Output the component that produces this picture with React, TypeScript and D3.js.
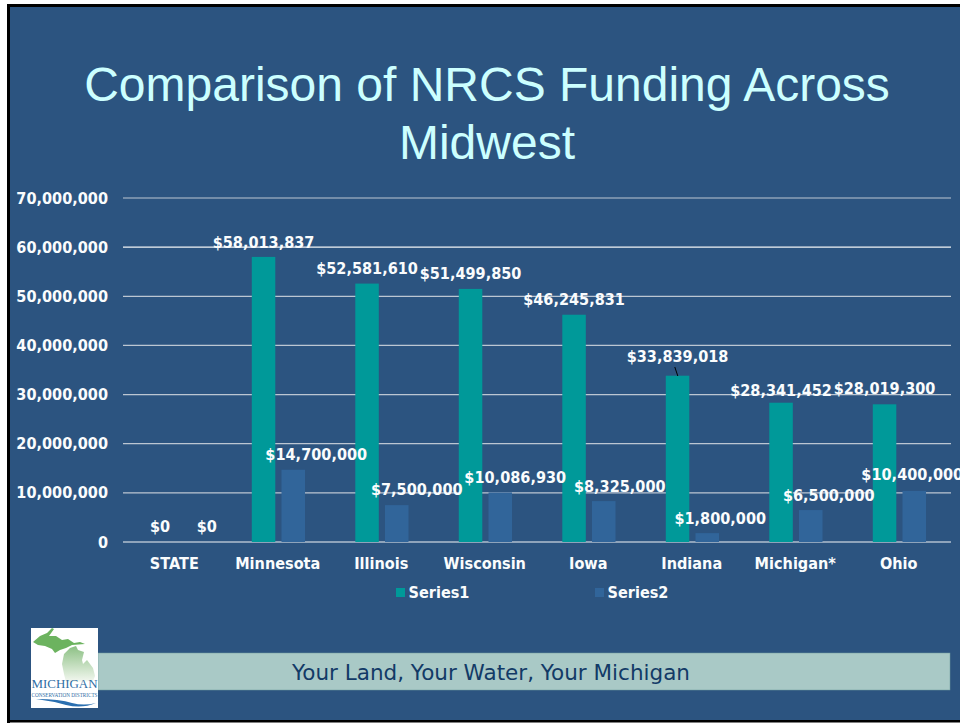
import React from "react";
import * as d3 from "d3";

const categories = ["STATE", "Minnesota", "Illinois", "Wisconsin", "Iowa", "Indiana", "Michigan*", "Ohio"];
const series1 = [0, 58013837, 52581610, 51499850, 46245831, 33839018, 28341452, 28019300];
const series2 = [0, 14700000, 7500000, 10086930, 8325000, 1800000, 6500000, 10400000];
const yTicks = [0, 10000000, 20000000, 30000000, 40000000, 50000000, 60000000, 70000000];
const seriesNames = ["Series1", "Series2"];

// manual label placement, as in the slide (dx from bar centre, dy from bar top)
const label1Dx = [0, 0, 0, 0, 0, 0, 0, 0];
const label1Dy = [-15, -14, -15, -15, -15, -19, -12, -15];
const label2Dx = [17, 23, 20, 15, 16, 13, 18, -2];
const label2Dy = [-15, -15, -15, -14, -14, -14, -14, -16];

const BG = "#2c5480";
const TEAL = "#009999";
const BLUE = "#31659a";
const FONT = "'DejaVu Sans', Verdana, sans-serif";

const fmt = d3.format(",");

function Label(props: { x: number; y: number; anchor?: string; children: React.ReactNode }) {
  return (
    <text
      transform={`translate(${props.x},${props.y}) scale(0.93,1)`}
      textAnchor={props.anchor ?? "middle"}
      fontFamily={FONT}
      fontWeight={700}
      fontSize={15.6}
      fill="#fafcfd"
    >
      {props.children}
    </text>
  );
}

export default function App() {
  const x = d3.scaleBand().domain(categories).range([123, 951]);
  const y = d3.scaleLinear().domain([0, 70000000]).range([542, 198]);
  const barW = 23.5;
  const gapOffset = 3.25;
  const cx = (c: string) => (x(c) as number) + x.bandwidth() / 2;
  const x1 = (c: string) => cx(c) - gapOffset - barW + 0.3;
  const x2 = (c: string) => cx(c) + gapOffset;

  return (
    <svg
      width={960}
      height={723}
      style={{ position: "fixed", left: 0, top: 0, display: "block", background: "#fff" }}
    >
      <rect x={0} y={0} width={960} height={723} fill={BG} />
      <rect x={0} y={0} width={960} height={4} fill="#fff" />
      <rect x={0} y={0} width={7} height={723} fill="#fff" />
      <rect x={0} y={722} width={960} height={1} fill="#fff" />
      <rect x={7} y={4} width={3} height={719} fill="#000" />
      <rect x={7} y={4} width={953} height={3} fill="#000" />
      <rect x={7} y={720} width={953} height={2.5} fill="#000" />

      <g fontFamily="'Liberation Sans', Arial, sans-serif" fontSize={48} fill="#ccffff" textAnchor="middle">
        <text x={487} y={101}>Comparison of NRCS Funding Across</text>
        <text x={487} y={159}>Midwest</text>
      </g>

      {yTicks.map((t) => (
        <g key={t}>
          <line
            x1={123}
            x2={951}
            y1={y(t)}
            y2={y(t)}
            stroke={t === 0 || t === 60000000 ? "#f2f4f6" : "#bcc6d2"}
            strokeWidth={1.2}
          />
          <Label x={108} y={y(t) + 5.5} anchor="end">
            {fmt(t)}
          </Label>
        </g>
      ))}

      {categories.map((c, i) => (
        <g key={c}>
          {series1[i] > 0 && (
            <rect x={x1(c)} y={y(series1[i])} width={barW} height={y(0) - y(series1[i])} fill={TEAL} />
          )}
          {series2[i] > 0 && (
            <rect x={x2(c)} y={y(series2[i])} width={barW} height={y(0) - y(series2[i])} fill={BLUE} />
          )}
        </g>
      ))}

      <line
        x1={x1("Indiana") + 9}
        y1={367}
        x2={x1("Indiana") + 12}
        y2={376}
        stroke="#000"
        strokeWidth={1}
      />

      {categories.map((c, i) => (
        <g key={c}>
          <Label x={x1(c) + barW / 2 + label1Dx[i]} y={y(series1[i]) + label1Dy[i] + 5}>
            ${fmt(series1[i])}
          </Label>
          <Label x={x2(c) + barW / 2 + label2Dx[i]} y={y(series2[i]) + label2Dy[i] + 5}>
            ${fmt(series2[i])}
          </Label>
          <Label x={cx(c) - 0.5} y={568.5}>
            {c}
          </Label>
        </g>
      ))}

      {seriesNames.map((s, i) => (
        <g key={s}>
          <rect x={396 + i * 199} y={588} width={9} height={9} fill={i === 0 ? TEAL : BLUE} />
          <Label x={408.5 + i * 199} y={597.5} anchor="start">
            {s}
          </Label>
        </g>
      ))}

      <rect x={98} y={653} width={852} height={37} fill="#a9c9c6" stroke="#6f9c9c" strokeWidth={0.5} />
      <text x={491} y={680} textAnchor="middle" fontFamily={FONT} fontSize={21.5} fill="#123a66">
        Your Land, Your Water, Your Michigan
      </text>

      {/* logo */}
      <rect x={31} y={628} width={67} height={80} fill="#ffffff" />
      <defs>
        <linearGradient id="lower" x1="0" y1="0" x2="0" y2="1">
          <stop offset="0" stopColor="#8cc084" />
          <stop offset="1" stopColor="#f4f8f1" />
        </linearGradient>
      </defs>
      <path
        d="M33 642 L40 636 L47 633 L52 628 L54 629 L49 636 L56 636 L62 640 L68 639 L74 643 L80 642 L85 644 L72 645 L66 648 L60 650 L55 653 L52 649 L45 646 L38 645 Z"
        fill="#6cb35f"
      />
      <path
        d="M62 664 L64 654 L70 648 L76 646 L78 650 L84 652 L82 660 L83 664 L87 660 L93 668 L95 676 L93 681 L76 682 L66 682 L64 674 Z"
        fill="url(#lower)"
      />
      <text x={64.5} y={688} textAnchor="middle" fontFamily="'Liberation Serif', serif" fontSize={12} fill="#2f6ea5" textLength={66} lengthAdjust="spacingAndGlyphs">
        MICHIGAN
      </text>
      <text x={64.5} y={697} textAnchor="middle" fontFamily="'Liberation Serif', serif" fontSize={6} fill="#2f6ea5" textLength={66} lengthAdjust="spacingAndGlyphs">
        CONSERVATION DISTRICTS
      </text>
      <path d="M36 699 Q60 699 72 703 Q84 706 96 703 Q82 709 66 705 Q52 701 36 699 Z" fill="#2a6fb0" />
    </svg>
  );
}
